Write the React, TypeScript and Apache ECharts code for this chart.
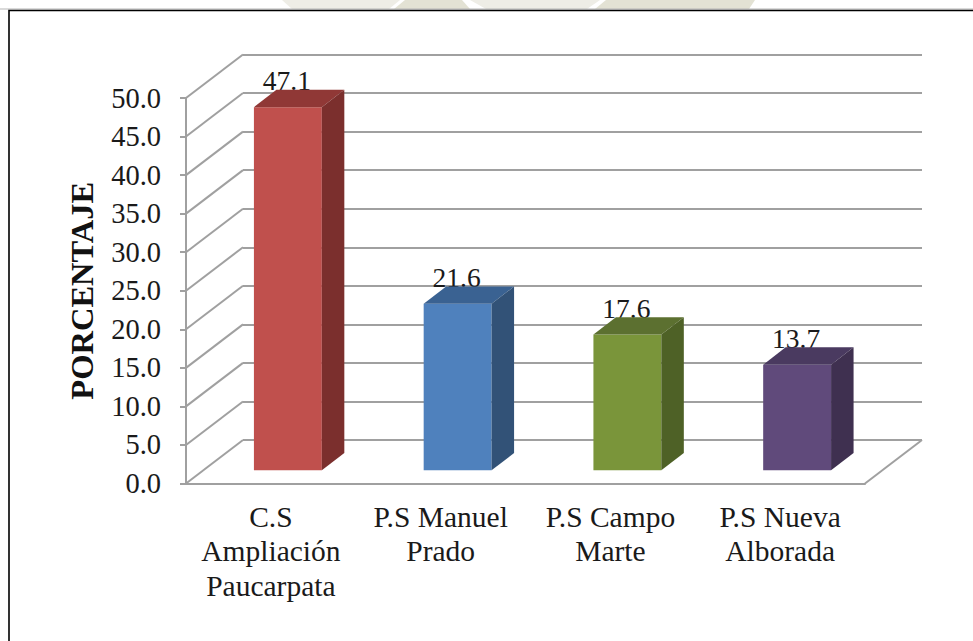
import React, { useEffect, useRef } from "react";
import * as echarts from "echarts";

const categories = ["C.S\nAmpliación\nPaucarpata", "P.S Manuel\nPrado", "P.S Campo\nMarte", "P.S Nueva\nAlborada"];
const values = [47.1, 21.6, 17.6, 13.7];
const axisTicks = [0, 5, 10, 15, 20, 25, 30, 35, 40, 45, 50];
const faceColors = ["#c0504d", "#4f81bd", "#7a953a", "#604a7b"];
const topColors = ["#903836", "#3a6292", "#5c7030", "#4a3a60"];
const sideColors = ["#7b2f2d", "#325277", "#4e6126", "#3f3050"];
const axisTitle = "PORCENTAJE";

const FONT = "Liberation Serif";
const GREY = "#a0a0a0";
const WALL_DX = 57;
const WALL_DY = -43.5;
const BAR_DX = 22.5;
const BAR_DY = -17.3;
const BAR_OFFSET_X = 17;
const BAR_OFFSET_Y = -13.2;

export default function App() {
  const ref = useRef<HTMLDivElement>(null);
  useEffect(() => {
    const chart = echarts.init(ref.current!, undefined, { renderer: "svg" });
    const pts = (a: number[][]) => ({ points: a });
    chart.setOption({
      animation: false,
      backgroundColor: "#ffffff",
      graphic: [
        { type: "polygon", silent: true, shape: pts([[282, 0], [400, 0], [389, 9], [292, 9]]), style: { fill: "#eeede6" } },
        { type: "polygon", silent: true, shape: pts([[405, 0], [462, 0], [470, 9], [394, 9]]), style: { fill: "#e3e2d4" } },
        { type: "polygon", silent: true, shape: pts([[470, 0], [600, 0], [587, 9], [486, 9]]), style: { fill: "#eeede6" } },
        { type: "polygon", silent: true, shape: pts([[606, 0], [755, 0], [749, 9], [595, 9]]), style: { fill: "#e3e2d4" } },
        { type: "line", silent: true, shape: { x1: 0, y1: 9, x2: 973, y2: 9 }, style: { stroke: "#b5b5b5", lineWidth: 1 } },
        { type: "polyline", silent: true, shape: pts([[9, 641], [9, 10.5], [973, 10.5]]), style: { stroke: "#000000", lineWidth: 1.6, fill: "none" } },
      ],
      grid: [
        { left: 186, top: 98, width: 679, height: 385.5, containLabel: false },
        { left: 243, top: 54.5, width: 679, height: 385.5, containLabel: false },
      ],
      xAxis: [
        {
          type: "category",
          gridIndex: 0,
          data: categories,
          axisLine: { show: true, lineStyle: { color: GREY, width: 2 } },
          axisTick: { show: false },
          axisLabel: { interval: 0, fontFamily: FONT, fontSize: 29.5, color: "#1a1a1a", lineHeight: 34.5, margin: 16 },
        },
        { type: "category", gridIndex: 1, data: categories, show: false },
      ],
      yAxis: [
        {
          type: "value",
          gridIndex: 0,
          min: 0,
          max: 50,
          interval: 5,
          name: axisTitle,
          nameLocation: "middle",
          nameGap: 88,
          nameRotate: 90,
          nameTextStyle: { fontFamily: FONT, fontSize: 32.5, fontWeight: "bold", color: "#111111" },
          axisLine: { show: true, lineStyle: { color: GREY, width: 2 } },
          axisTick: { show: true, length: 6, lineStyle: { color: GREY, width: 2 } },
          axisLabel: { fontFamily: FONT, fontSize: 28.5, color: "#1a1a1a", margin: 25, formatter: (v: number) => v.toFixed(1) },
          splitLine: { show: false },
        },
        {
          type: "value",
          gridIndex: 1,
          min: 0,
          max: 50,
          interval: 5,
          axisLine: { show: false },
          axisTick: { show: false },
          axisLabel: { show: false },
          splitLine: { show: true, lineStyle: { color: GREY, width: 2 } },
        },
      ],
      series: [
        {
          type: "custom",
          name: "frame",
          xAxisIndex: 0,
          yAxisIndex: 0,
          silent: true,
          clip: false,
          z: 1,
          data: axisTicks.map((t) => [0, t]),
          renderItem: (_p: any, api: any) => {
            const t = api.value(1);
            const start = api.coord([0, t]);
            const x0 = 186;
            const children: any[] = [
              { type: "line", shape: { x1: x0, y1: start[1], x2: x0 + WALL_DX, y2: start[1] + WALL_DY }, style: { stroke: GREY, lineWidth: 2 } },
            ];
            if (t === 0) {
              const x1 = x0 + 679;
              children.push({ type: "line", shape: { x1, y1: start[1], x2: x1 + WALL_DX, y2: start[1] + WALL_DY }, style: { stroke: GREY, lineWidth: 2 } });
            }
            return { type: "group", children };
          },
        },
        {
          type: "custom",
          name: "bars",
          xAxisIndex: 0,
          yAxisIndex: 0,
          silent: true,
          clip: false,
          z: 3,
          data: values.map((v, i) => [i, v]),
          renderItem: (_p: any, api: any) => {
            const i = api.value(0);
            const v = api.value(1);
            const top = api.coord([i, v]);
            const base = api.coord([i, 0]);
            const w = api.size([1, 0])[0] * 0.4;
            const xl = top[0] - w / 2 + BAR_OFFSET_X;
            const xr = xl + w;
            const yt = top[1] + BAR_OFFSET_Y;
            const yb = base[1] + BAR_OFFSET_Y;
            return {
              type: "group",
              children: [
                { type: "text", style: { text: v.toFixed(1), x: xl + w / 2 - 1, y: yt + BAR_DY + 5, align: "center", verticalAlign: "bottom", fontFamily: FONT, fontSize: 27.5, fill: "#1a1a1a" } },
                { type: "polygon", shape: pts([[xl, yb], [xr, yb], [xr, yt], [xl, yt]]), style: { fill: faceColors[i] } },
                { type: "polygon", shape: pts([[xl, yt], [xr, yt], [xr + BAR_DX, yt + BAR_DY], [xl + BAR_DX, yt + BAR_DY]]), style: { fill: topColors[i] } },
                { type: "polygon", shape: pts([[xr, yb], [xr + BAR_DX, yb + BAR_DY], [xr + BAR_DX, yt + BAR_DY], [xr, yt]]), style: { fill: sideColors[i] } },
              ],
            };
          },
        },
      ],
    });
    return () => chart.dispose();
  }, []);
  return <div ref={ref} style={{ position: "fixed", left: 0, top: 0, width: 973, height: 641 }} />;
}
